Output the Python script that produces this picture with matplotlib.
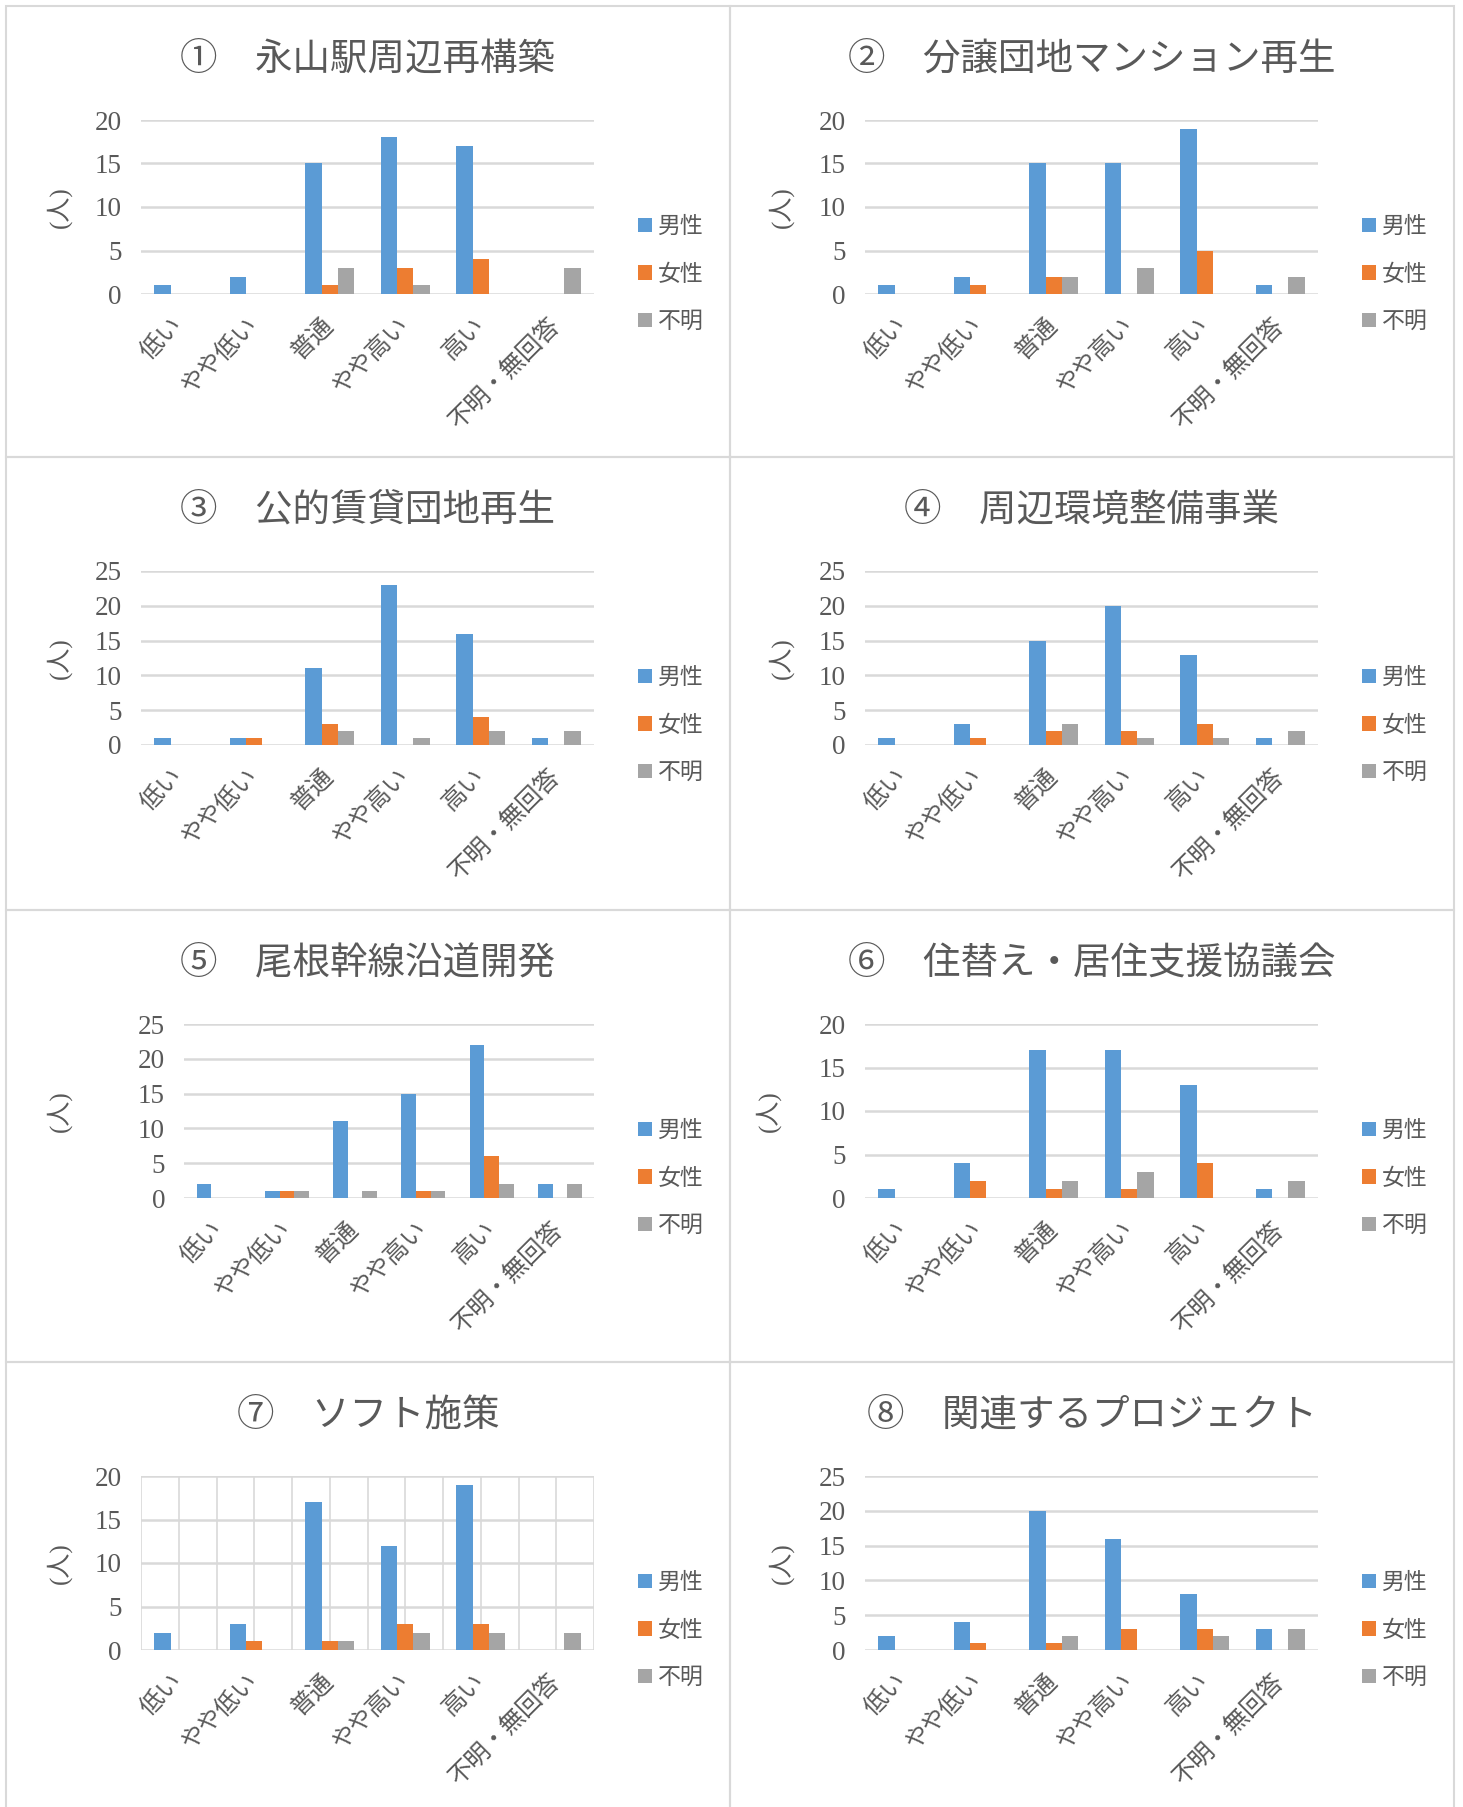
import numpy as np
import matplotlib
matplotlib.use("Agg")
import matplotlib.pyplot as plt
from matplotlib.patches import Rectangle

plt.rcParams['font.family'] = ['Liberation Serif', 'Noto Sans CJK JP']

categories = ["低い", "やや低い", "普通", "やや高い", "高い", "不明・無回答"]
series_names = ["男性", "女性", "不明"]
colors = ["#5B9BD5", "#ED7D31", "#A5A5A5"]

titles = ["①　永山駅周辺再構築", "②　分譲団地マンション再生", "③　公的賃貸団地再生",
          "④　周辺環境整備事業", "⑤　尾根幹線沿道開発", "⑥　住替え・居住支援協議会",
          "⑦　ソフト施策", "⑧　関連するプロジェクト"]

p1_male = [1, 2, 15, 18, 17, 0]
p1_female = [0, 0, 1, 3, 4, 0]
p1_unknown = [0, 0, 3, 1, 0, 3]

p2_male = [1, 2, 15, 15, 19, 1]
p2_female = [0, 1, 2, 0, 5, 0]
p2_unknown = [0, 0, 2, 3, 0, 2]

p3_male = [1, 1, 11, 23, 16, 1]
p3_female = [0, 1, 3, 0, 4, 0]
p3_unknown = [0, 0, 2, 1, 2, 2]

p4_male = [1, 3, 15, 20, 13, 1]
p4_female = [0, 1, 2, 2, 3, 0]
p4_unknown = [0, 0, 3, 1, 1, 2]

p5_male = [2, 1, 11, 15, 22, 2]
p5_female = [0, 1, 0, 1, 6, 0]
p5_unknown = [0, 1, 1, 1, 2, 2]

p6_male = [1, 4, 17, 17, 13, 1]
p6_female = [0, 2, 1, 1, 4, 0]
p6_unknown = [0, 0, 2, 3, 0, 2]

p7_male = [2, 3, 17, 12, 19, 0]
p7_female = [0, 1, 1, 3, 3, 0]
p7_unknown = [0, 0, 1, 2, 2, 2]

p8_male = [2, 4, 20, 16, 8, 3]
p8_female = [0, 1, 1, 3, 3, 0]
p8_unknown = [0, 0, 2, 0, 2, 3]

y_max = [20, 20, 25, 25, 25, 20, 20, 25]

panels = [
    (p1_male, p1_female, p1_unknown),
    (p2_male, p2_female, p2_unknown),
    (p3_male, p3_female, p3_unknown),
    (p4_male, p4_female, p4_unknown),
    (p5_male, p5_female, p5_unknown),
    (p6_male, p6_female, p6_unknown),
    (p7_male, p7_female, p7_unknown),
    (p8_male, p8_female, p8_unknown),
]

W, H = 1463, 1807
fig = plt.figure(figsize=(W / 100, H / 100), dpi=100)

text_col = "#595959"
grid_col = "#D9D9D9"
col_x = [6, 730]
row_y = [6, 457, 910, 1362]
panel_w = 724

x = np.arange(len(categories))
bw = 0.215

# where the y label's right edge sits, in axes coords
ylab_x = [-0.153, -0.156, -0.153, -0.156, -0.276, -0.185, -0.153, -0.156]

for i in range(8):
    px0 = col_x[i % 2]
    py0 = row_y[i // 2]
    ph = (row_y[i // 2 + 1] - py0) if i // 2 < 3 else H - py0 + 2

    # panel border
    fig.add_artist(Rectangle((px0 / W, 1 - (py0 + ph) / H), panel_w / W, ph / H,
                             transform=fig.transFigure, fill=False, ec=grid_col, lw=1.5))

    left = 178.5 if i == 4 else 135
    right = 588
    top, bottom = 114, 288
    ax = fig.add_axes([(px0 + left) / W, 1 - (py0 + bottom) / H,
                       (right - left) / W, (bottom - top) / H])

    for k, vals in enumerate(panels[i]):
        ax.bar(x + (k - 1) * bw, vals, bw, color=colors[k], label=series_names[k],
               linewidth=0, zorder=3)

    ax.set_xlim(-0.5, len(categories) - 0.5)
    ax.set_ylim(0, y_max[i])
    ax.set_yticks(np.arange(0, y_max[i] + 1, 5))
    ax.set_xticks(x)
    ax.set_xticklabels(categories, rotation=45, ha='right', va='center',
                       rotation_mode='anchor', fontsize=17.5, color=text_col)
    ax.tick_params(axis='x', length=0, pad=20)
    ax.tick_params(axis='y', length=0, pad=14, labelsize=19.5, labelcolor=text_col)
    for s in ax.spines.values():
        s.set_visible(False)
    ax.grid(axis='y', color=grid_col, lw=1.8, zorder=0)
    if i == 6:
        ax.set_xticks(np.arange(-0.5, len(categories), 1.0), minor=True)
        ax.tick_params(axis='x', which='minor', length=0)
        ax.grid(axis='x', which='both', color=grid_col, lw=1.2, zorder=0)
    ax.set_axisbelow(True)

    ax.set_ylabel("(人)", fontsize=18, color=text_col)
    ax.yaxis.set_label_coords(ylab_x[i], 0.5)

    fig.text((px0 + 362) / W, 1 - (py0 + 54) / H, titles[i], ha='center', va='center',
             fontsize=27, color=text_col)

    ax.legend(loc='center left', bbox_to_anchor=((px0 + 632) / W, 1 - (py0 + 269) / H),
              bbox_transform=fig.transFigure, frameon=False, fontsize=16.5,
              labelcolor=text_col, handlelength=0.6, handleheight=0.6,
              handletextpad=0.25, labelspacing=1.15, borderpad=0, borderaxespad=0)

fig.savefig("out.png", dpi=100, facecolor="white")
